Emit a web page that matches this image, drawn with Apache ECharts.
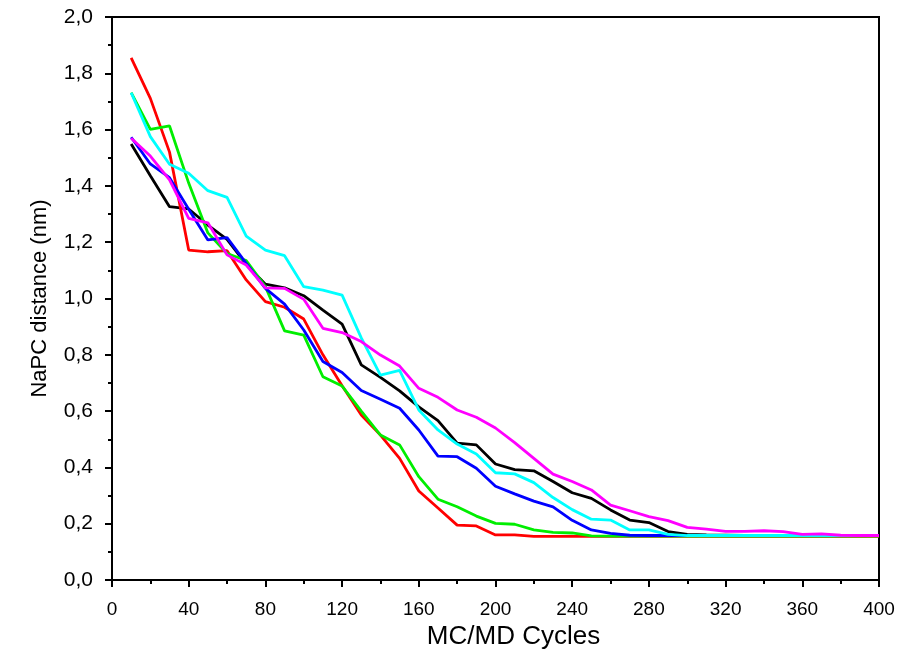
<!DOCTYPE html>
<html>
<head>
<meta charset="utf-8">
<script src="https://cdn.jsdelivr.net/npm/echarts@6/dist/echarts.min.js"></script>
<style>html,body{margin:0;padding:0;background:#fff}#c{width:913px;height:656px}</style>
</head>
<body>
<div id="c"></div>
<script>
var cycles = [10,20,30,40,50,60,70,80,90,100,110,120,130,140,150,160,170,180,190,200,
              210,220,230,240,250,260,270,280,290,300,310,320,330,340,350,360,370,380,390,400];

var seriesBlack = [1.549,1.436,1.326,1.318,1.261,1.210,1.121,1.051,1.038,1.010,0.959,0.909,0.764,0.720,0.672,0.615,0.566,0.486,0.480,0.412,
                   0.392,0.388,0.350,0.310,0.290,0.249,0.213,0.204,0.172,0.162,0.160,0.159,0.158,0.158,0.158,0.158,0.158,0.158,0.158,0.158];
var seriesRed   = [1.855,1.711,1.520,1.172,1.166,1.170,1.066,0.989,0.969,0.927,0.800,0.690,0.586,0.515,0.432,0.316,0.256,0.195,0.192,0.160,
                   0.160,0.155,0.155,0.155,0.155,0.155,0.155,0.155,0.155,0.155,0.155,0.155,0.155,0.155,0.155,0.155,0.155,0.155,0.155,0.155];
var seriesGreen = [1.731,1.601,1.613,1.410,1.233,1.160,1.135,1.042,0.885,0.870,0.722,0.689,0.600,0.515,0.480,0.367,0.287,0.260,0.227,0.201,
                   0.198,0.178,0.169,0.167,0.157,0.156,0.156,0.156,0.156,0.156,0.156,0.156,0.156,0.156,0.156,0.156,0.156,0.156,0.156,0.156];
var seriesBlue  = [1.573,1.478,1.429,1.317,1.208,1.216,1.125,1.036,0.980,0.888,0.776,0.737,0.673,0.642,0.610,0.533,0.440,0.438,0.397,0.333,
                   0.306,0.280,0.260,0.212,0.178,0.166,0.159,0.158,0.158,0.158,0.158,0.158,0.158,0.158,0.158,0.158,0.158,0.158,0.158,0.158];
var seriesCyan  = [1.731,1.575,1.477,1.445,1.383,1.359,1.222,1.172,1.152,1.042,1.030,1.012,0.860,0.728,0.745,0.604,0.533,0.483,0.448,0.381,
                   0.377,0.346,0.293,0.250,0.216,0.213,0.178,0.178,0.162,0.158,0.158,0.158,0.158,0.158,0.158,0.158,0.158,0.158,0.158,0.158];
var seriesMagenta = [1.569,1.506,1.421,1.285,1.269,1.155,1.119,1.038,1.036,0.997,0.894,0.879,0.847,0.799,0.760,0.681,0.649,0.604,0.578,0.540,
                   0.488,0.432,0.376,0.350,0.320,0.266,0.246,0.225,0.211,0.187,0.181,0.173,0.173,0.175,0.172,0.162,0.164,0.159,0.158,0.158];

var seriesList = [
  {name: 'black', color: '#000000', values: seriesBlack},
  {name: 'red', color: '#ff0000', values: seriesRed},
  {name: 'green', color: '#00ee00', values: seriesGreen},
  {name: 'blue', color: '#0000ff', values: seriesBlue},
  {name: 'cyan', color: '#00ffff', values: seriesCyan},
  {name: 'magenta', color: '#ff00ff', values: seriesMagenta}
];

function pairs(vals) {
  return cycles.map(function (c, i) { return [c, vals[i]]; });
}

var FONT = '"Liberation Sans", Arial, sans-serif';
var chart = echarts.init(document.getElementById('c'), null, {renderer: 'canvas'});
chart.setOption({
  animation: false,
  backgroundColor: '#ffffff',
  grid: {left: 112, right: 34, top: 17, bottom: 76, show: true, borderColor: '#000', borderWidth: 2},
  xAxis: {
    type: 'value', min: 0, max: 400, interval: 40,
    name: 'MC/MD Cycles', nameLocation: 'middle', nameGap: 43,
    nameTextStyle: {fontFamily: FONT, fontSize: 26, color: '#000', padding: [0, 0, 0, 36]},
    axisLine: {show: true, onZero: false, lineStyle: {color: '#000', width: 2}},
    axisTick: {show: true, inside: false, length: 7, lineStyle: {color: '#000', width: 2}},
    minorTick: {show: true, splitNumber: 2, length: 4, lineStyle: {color: '#000', width: 2}},
    axisLabel: {fontFamily: FONT, fontSize: 19, color: '#000', margin: 20},
    splitLine: {show: false}
  },
  yAxis: {
    type: 'value', min: 0, max: 2, interval: 0.2,
    name: 'NaPC distance (nm)', nameLocation: 'middle', nameGap: 61,
    nameTextStyle: {fontFamily: FONT, fontSize: 22, color: '#000'},
    axisLine: {show: true, lineStyle: {color: '#000', width: 2}},
    axisTick: {show: true, inside: false, length: 7, lineStyle: {color: '#000', width: 2}},
    minorTick: {show: true, splitNumber: 2, length: 4, lineStyle: {color: '#000', width: 2}},
    axisLabel: {fontFamily: FONT, fontSize: 21, color: '#000', margin: 19,
      formatter: function (v) { return v.toFixed(1).replace('.', ','); }},
    splitLine: {show: false}
  },
  series: seriesList.map(function (s) {
    return {
      name: s.name, type: 'line', data: pairs(s.values),
      showSymbol: false, symbol: 'none',
      lineStyle: {color: s.color, width: 2.8},
      itemStyle: {color: s.color}
    };
  })
});
</script>
</body>
</html>
